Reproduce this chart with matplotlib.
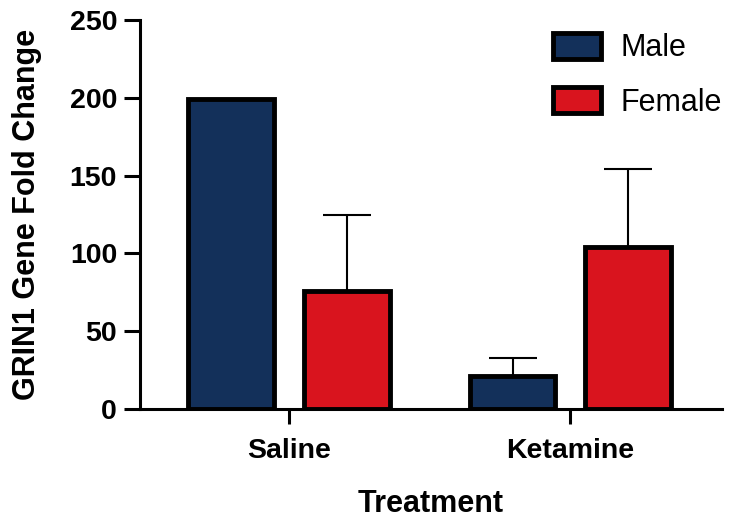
import matplotlib
matplotlib.use("Agg")
import matplotlib.pyplot as plt
import numpy as np

plt.rcParams['font.family'] = ['Liberation Sans', 'DejaVu Sans']

categories = ["Saline", "Ketamine"]
series_names = ["Male", "Female"]
male_values = [199, 21]
male_err = [0, 12]
female_values = [76, 104]
female_err = [49, 50]
yticks = [0, 50, 100, 150, 200, 250]

navy = "#13305A"
red = "#D9141E"

fig = plt.figure(figsize=(7.31, 5.23), dpi=100)
ax = fig.add_axes([140/731, 1-409/523, (722-140)/731, (409-20)/523])

x = np.arange(len(categories))
w = 0.305
off = 0.205
lw_bar = 3.5

for vals, errs, dx, col, name in [(male_values, male_err, -off, navy, "Male"),
                                  (female_values, female_err, off, red, "Female")]:
    ax.errorbar(x + dx, vals, yerr=[np.zeros(len(errs)), errs], fmt='none',
                ecolor='black', elinewidth=1.5, capsize=17, capthick=1.5, zorder=1)
    ax.bar(x + dx, vals, width=w, color=col, edgecolor='black', linewidth=lw_bar,
           label=name, zorder=2)

ax.set_xlim(-0.53, 1.54)
ax.set_ylim(0, 250)
ax.set_yticks(yticks)
ax.set_xticks(x)
ax.set_xticklabels(categories)

for s in ['top', 'right']:
    ax.spines[s].set_visible(False)
for s in ['left', 'bottom']:
    ax.spines[s].set_linewidth(2.2)

ax.tick_params(axis='y', length=11.5, width=2.2, pad=5, labelsize=20.5)
ax.tick_params(axis='x', length=11, width=2.2, pad=10, labelsize=20.5)
for lab in ax.get_xticklabels() + ax.get_yticklabels():
    lab.set_fontweight('bold')

ax.set_ylabel("GRIN1 Gene Fold Change", fontsize=22, fontweight='bold')
ax.set_xlabel("Treatment", fontsize=22, fontweight='bold', labelpad=18)
ax.yaxis.set_label_coords(-0.168, 0.5)

leg = ax.legend(loc='upper left', bbox_to_anchor=(553/731, 1-33/523),
                bbox_transform=fig.transFigure, frameon=False, fontsize=22,
                handlelength=1.57, handleheight=0.92, handletextpad=0.65,
                labelspacing=0.78, borderpad=0, borderaxespad=0)
for p in leg.get_patches():
    p.set_linewidth(3.5)

fig.savefig("out.png", dpi=100)
